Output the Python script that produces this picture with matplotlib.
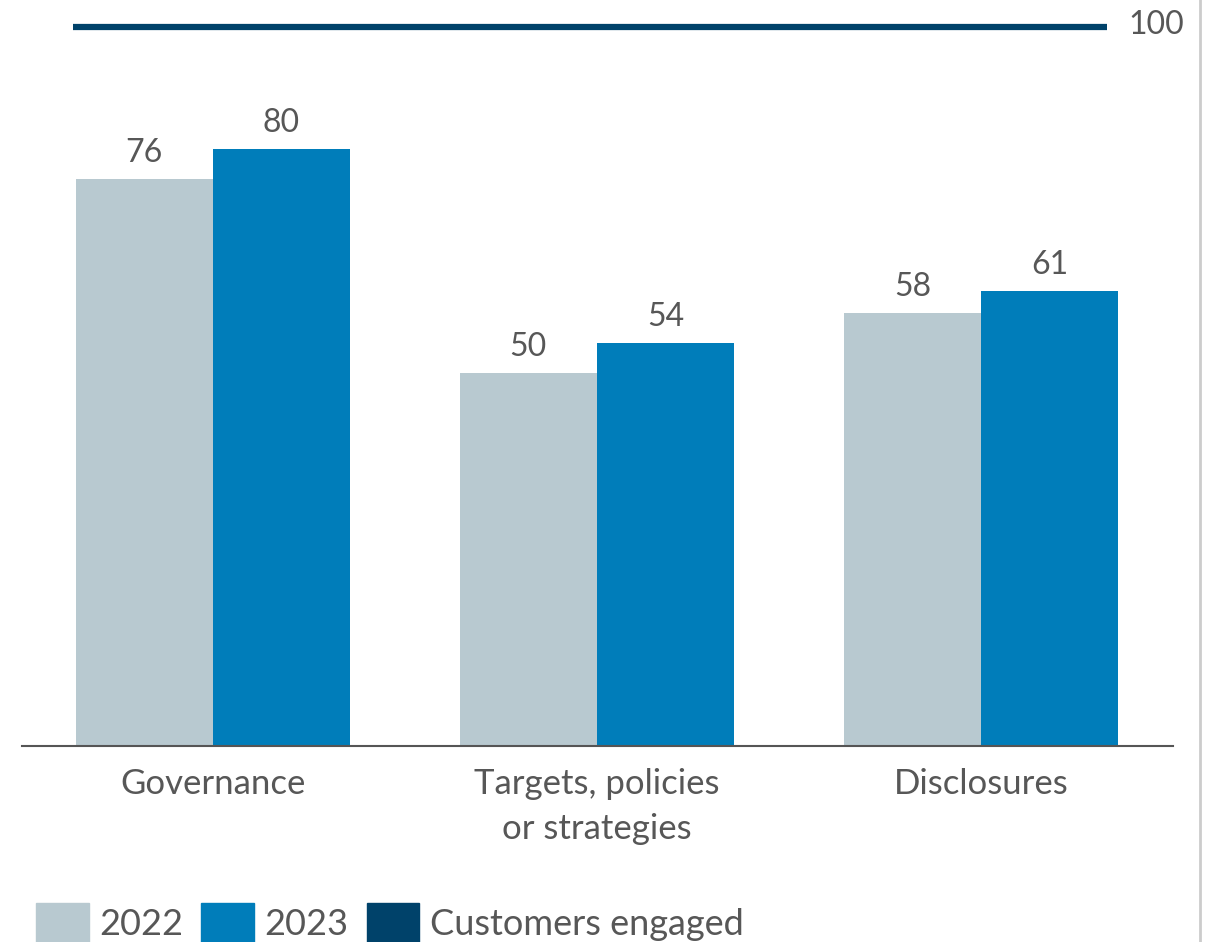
import matplotlib.pyplot as plt
from matplotlib.patches import Patch
import numpy as np

# chart data
categories = ["Governance", "Targets, policies\nor strategies", "Disclosures"]
years = ["2022", "2023"]
values_2022 = [76, 50, 58]
values_2023 = [80, 54, 61]
customers_engaged = 100

color_2022 = "#b8c9d0"
color_2023 = "#007dba"
color_engaged = "#00426a"
text_grey = "#575757"

plt.rcParams['font.family'] = ['Lato', 'DejaVu Sans']

fig = plt.figure(figsize=(12.13, 9.42), dpi=100)
ax = fig.add_axes([22 / 1213, 196 / 942, 1151 / 1213, 746 / 942])

x = np.arange(len(categories))
width = 0.357
bars_a = ax.bar(x - width / 2, values_2022, width, color=color_2022)
bars_b = ax.bar(x + width / 2, values_2023, width, color=color_2023)

for bars in (bars_a, bars_b):
    for b in bars:
        ax.annotate(f"{b.get_height():.0f}", (b.get_x() + b.get_width() / 2, b.get_height()),
                    xytext=(0, 8), textcoords="offset points", ha="center", va="bottom",
                    fontsize=23, color=text_grey)

ax.set_xlim(-0.497, 2.5)
ax.set_ylim(0, 100)
ax.set_xticks(x)
ax.set_xticklabels(categories, fontsize=25, color=text_grey, linespacing=1.5)
ax.tick_params(axis="x", length=0, pad=16)
ax.set_yticks([])
for s in ["top", "right", "left"]:
    ax.spines[s].set_visible(False)
ax.spines["bottom"].set_color("#555555")
ax.spines["bottom"].set_linewidth(1.5)

# customers engaged line on its own scale
ax2 = ax.twinx()
ax2.set_ylim(0, 103.75)
ax2.hlines(customers_engaged, -0.365, 2.328, color=color_engaged, linewidth=4.5)
ax2.text(2.528, customers_engaged + 0.3, f"{customers_engaged}", ha="right", va="center",
         fontsize=23, color=text_grey, clip_on=False)
ax2.axis("off")

# right border line
fig.add_artist(plt.Line2D([1200 / 1213, 1200 / 1213], [0, 1], color="#cccccc", linewidth=2))

handles = [Patch(color=color_2022, label=years[0]),
           Patch(color=color_2023, label=years[1]),
           Patch(color=color_engaged, label="Customers engaged")]
fig.legend(handles=handles, loc="lower left", bbox_to_anchor=(0.003, -0.035), ncol=3,
           frameon=False, fontsize=26, labelcolor=text_grey, handlelength=1.45,
           handleheight=1.3, handletextpad=0.3, columnspacing=0.5)

fig.savefig("out.png", dpi=100)
